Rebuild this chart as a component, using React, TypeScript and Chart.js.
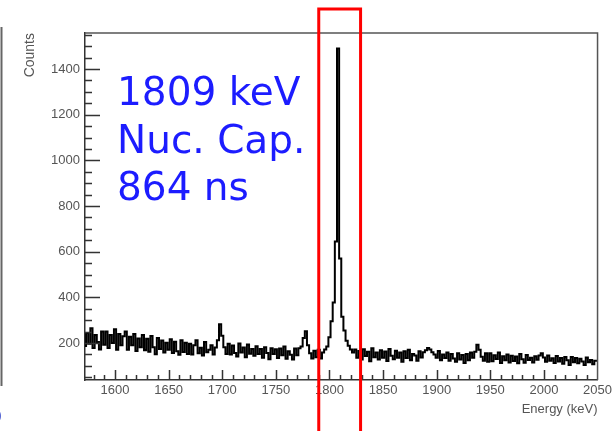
import React, { useEffect, useRef } from "react";
import { Chart, registerables } from "chart.js";

Chart.register(...registerables);

// Histogram bins: lower edge of first bin and bin width (keV)
const binStart = 1571;
const binWidth = 2;

// Counts per 2 keV bin (centres 1572, 1574, ... 2050)
const counts = [
  257, 187, 244, 197, 265, 178, 235, 205, 172, 250,
  192, 250, 178, 235, 200, 260, 170, 240, 190, 230,
  250, 170, 228, 190, 240, 165, 220, 182, 235, 168,
  219, 162, 231, 181, 151, 222, 174, 211, 159, 201,
  171, 216, 156, 206, 164, 149, 212, 161, 201, 152,
  197, 150, 190, 212, 155, 179, 145, 205, 160, 170,
  190, 150, 180, 212, 282, 232, 182, 152, 197, 150,
  189, 156, 141, 198, 159, 180, 138, 193, 153, 174,
  144, 186, 152, 174, 136, 181, 156, 129, 177, 152,
  173, 134, 176, 146, 185, 131, 164, 149, 128, 176,
  146, 177, 185, 222, 252, 190, 155, 132, 166, 138,
  170, 132, 158, 172, 185, 225, 295, 378, 645, 1490,
  570, 315, 255, 210, 188, 172, 158, 172, 135, 165,
  128, 173, 143, 162, 120, 177, 138, 158, 128, 168,
  136, 163, 121, 174, 144, 129, 166, 136, 159, 118,
  164, 134, 170, 125, 152, 145, 122, 164, 137, 160,
  168, 178, 172, 160, 150, 135, 165, 125, 150, 134,
  158, 122, 152, 132, 118, 155, 128, 148, 113, 152,
  125, 158, 136, 162, 192, 170, 140, 122, 155, 118,
  155, 120, 146, 130, 158, 112, 142, 124, 150, 115,
  144, 121, 141, 111, 152, 129, 114, 147, 126, 136,
  115, 142, 127, 145, 155, 137, 118, 145, 122, 133,
  113, 143, 119, 134, 109, 139, 124, 104, 139, 116,
  134, 111, 131, 119, 104, 137, 116, 126, 107, 122,
];

const xMin = 1572;
const xMax = 2050;
const yMin = 38;
const yMax = 1558;
const xTicks = [1600, 1650, 1700, 1750, 1800, 1850, 1900, 1950, 2000, 2050];
const yTicks = [200, 400, 600, 800, 1000, 1200, 1400];
const xTitle = "Energy (keV)";
const yTitle = "Counts";
const noteLines = ["1809 keV", "Nuc. Cap.", "864 ns"];
const boxRange = [1790, 1829]; // keV span of the red highlight box

const labelFont = "'Liberation Sans', Arial, sans-serif";

const overlayPlugin = {
  id: "overlay",
  afterDraw(chart: any) {
    const { ctx, chartArea, scales } = chart;
    const xs = scales.x;
    const ys = scales.y;
    const { left, right, top, bottom } = chartArea;
    ctx.save();
    // frame top & right
    ctx.strokeStyle = "#555";
    ctx.lineWidth = 1.5;
    ctx.beginPath();
    ctx.moveTo(left, top);
    ctx.lineTo(right, top);
    ctx.lineTo(right, bottom);
    ctx.stroke();
    // inner ticks
    ctx.strokeStyle = "#333";
    ctx.lineWidth = 1.5;
    ctx.beginPath();
    for (let v = 1580; v < xMax; v += 10) {
      const px = Math.round(xs.getPixelForValue(v)) + 0.5;
      const len = v % 50 === 0 ? 10 : 5;
      ctx.moveTo(px, bottom);
      ctx.lineTo(px, bottom - len);
    }
    for (let v = 50; v < yMax; v += 50) {
      if (v < yMin) continue;
      const py = Math.round(ys.getPixelForValue(v)) + 0.5;
      const len = v % 200 === 0 ? 15 : 7;
      ctx.moveTo(left, py);
      ctx.lineTo(left + len, py);
    }
    ctx.stroke();
    // annotation text
    ctx.fillStyle = "rgb(28,28,255)";
    ctx.font = "39px 'DejaVu Sans', Verdana, sans-serif";
    ctx.textAlign = "left";
    ctx.textBaseline = "alphabetic";
    const baselines = [105, 153, 200];
    noteLines.forEach((t, i) => ctx.fillText(t, 117, baselines[i]));
    // red box
    const bx0 = xs.getPixelForValue(boxRange[0]);
    const bx1 = xs.getPixelForValue(boxRange[1]);
    ctx.strokeStyle = "rgb(255,0,0)";
    ctx.lineWidth = 3;
    ctx.beginPath();
    ctx.moveTo(bx0, 440);
    ctx.lineTo(bx0, 9);
    ctx.lineTo(bx1, 9);
    ctx.lineTo(bx1, 440);
    ctx.stroke();
    // left-edge remnants of neighbouring panel
    ctx.strokeStyle = "#666";
    ctx.lineWidth = 2;
    ctx.beginPath();
    ctx.moveTo(1.5, 27);
    ctx.lineTo(1.5, 386);
    ctx.stroke();
    ctx.fillStyle = "rgb(40,60,200)";
    ctx.font = "14px 'Liberation Sans', Arial, sans-serif";
    ctx.fillText(")", -3, 420);
    ctx.restore();
  },
};

export default function App() {
  const ref = useRef<HTMLCanvasElement | null>(null);
  useEffect(() => {
    if (!ref.current) return;
    const points = counts.map((c, i) => ({ x: binStart + i * binWidth, y: c }));
    points.push({ x: binStart + counts.length * binWidth, y: counts[counts.length - 1] });
    const chart = new Chart(ref.current, {
      type: "line",
      data: {
        datasets: [
          {
            data: points,
            stepped: "after",
            borderColor: "#000",
            borderWidth: 2,
            pointRadius: 0,
            fill: false,
          },
        ],
      },
      options: {
        animation: false,
        responsive: false,
        devicePixelRatio: 1,
        layout: { padding: { top: 33, right: 14, left: 0, bottom: 0 } },
        plugins: { legend: { display: false }, tooltip: { enabled: false } },
        scales: {
          x: {
            type: "linear",
            min: xMin,
            max: xMax,
            grid: { display: false, drawTicks: false },
            border: { display: true, color: "#333", width: 1.5 },
            ticks: {
              font: { family: labelFont, size: 13 },
              color: "#555",
              padding: 3,
              maxRotation: 0,
              autoSkip: false,
              callback: (v: any) => String(v),
            },
            afterBuildTicks: (s: any) => {
              s.ticks = xTicks.map((v) => ({ value: v }));
            },
            afterFit: (s: any) => {
              s.height = 51;
            },
            title: {
              display: true,
              text: xTitle,
              align: "end",
              color: "#555",
              font: { family: labelFont, size: 13 },
              padding: { top: 0, bottom: 14 },
            },
          },
          y: {
            type: "linear",
            min: yMin,
            max: yMax,
            grid: { display: false, drawTicks: false },
            border: { display: true, color: "#333", width: 1.5 },
            ticks: {
              font: { family: labelFont, size: 13 },
              color: "#555",
              padding: 5,
              autoSkip: false,
              callback: (v: any) => String(v),
            },
            afterBuildTicks: (s: any) => {
              s.ticks = yTicks.map((v) => ({ value: v }));
            },
            afterFit: (s: any) => {
              s.width = 85;
            },
            title: {
              display: true,
              text: yTitle,
              align: "end",
              color: "#555",
              font: { family: labelFont, size: 14 },
              padding: { top: 22, bottom: 0 },
            },
          },
        },
      },
      plugins: [overlayPlugin],
    });
    return () => chart.destroy();
  }, []);
  return (
    <div style={{ position: "fixed", left: 0, top: 0, width: 615, height: 431, background: "#fff" }}>
      <canvas ref={ref} width={615} height={431} style={{ display: "block" }} />
    </div>
  );
}
